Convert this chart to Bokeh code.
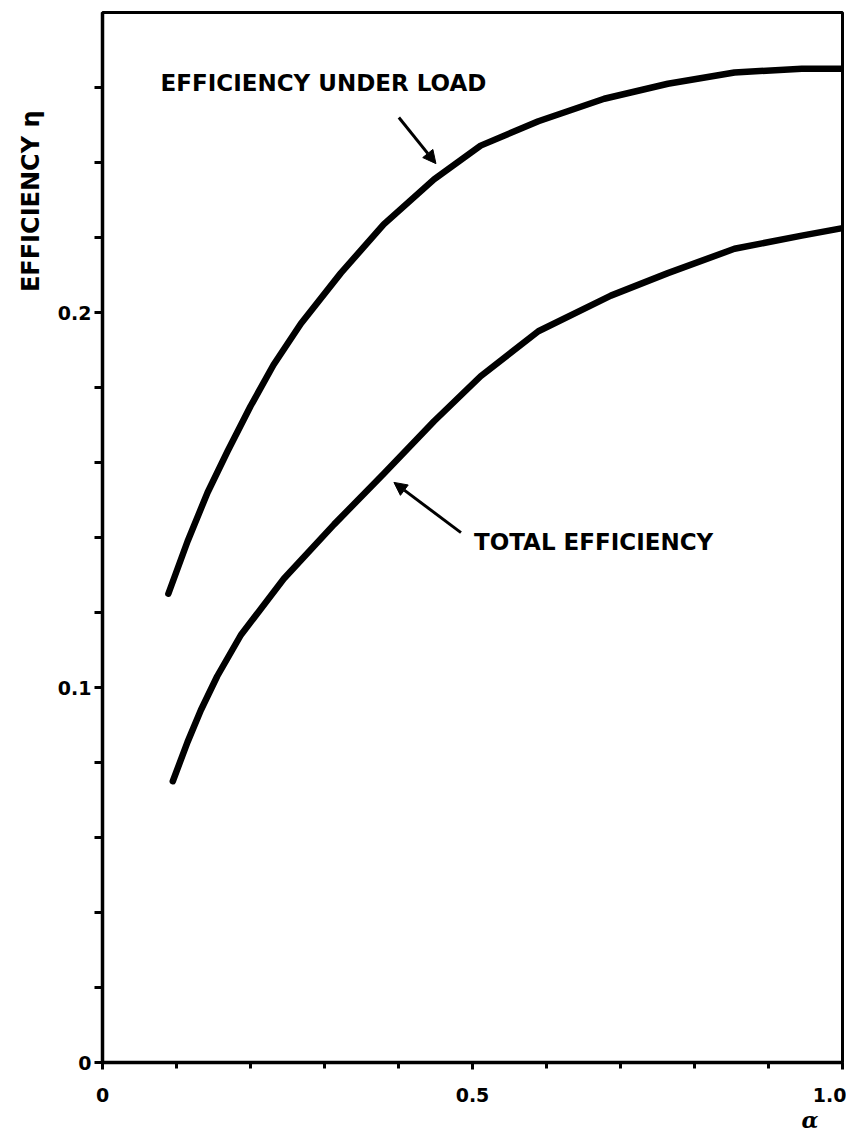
import math
from bokeh.plotting import figure
from bokeh.models import FixedTicker, Label, Arrow, NormalHead, Range1d, Title
from bokeh.embed import file_html
from bokeh.resources import INLINE

# ---- data ----
alpha_load = [0.089, 0.115, 0.142, 0.169, 0.200, 0.231, 0.268, 0.322, 0.380, 0.448,
              0.511, 0.589, 0.678, 0.764, 0.854, 0.945, 0.999]
eta_load = [0.125, 0.139, 0.152, 0.163, 0.175, 0.186, 0.197, 0.2105, 0.2235, 0.2355,
            0.2445, 0.251, 0.257, 0.261, 0.264, 0.265, 0.265]

alpha_total = [0.095, 0.115, 0.133, 0.155, 0.187, 0.245, 0.313, 0.380, 0.448, 0.511,
               0.589, 0.687, 0.764, 0.854, 0.945, 1.000]
eta_total = [0.075, 0.0855, 0.094, 0.103, 0.114, 0.129, 0.1435, 0.157, 0.171, 0.183,
             0.195, 0.2045, 0.2105, 0.217, 0.2205, 0.2225]

x_ticks = [0, 0.5, 1.0]
x_tick_labels = ["0", "0.5", "1.0"]
x_minor = [0.1, 0.2, 0.3, 0.4, 0.6, 0.7, 0.8, 0.9]
y_ticks = [0, 0.1, 0.2]
y_tick_labels = ["0", "0.1", "0.2"]
y_minor = [0.02, 0.04, 0.06, 0.08, 0.12, 0.14, 0.16, 0.18, 0.22, 0.24, 0.26]

FONT = "DejaVu Sans"

p = figure(width=846, height=1135, output_backend="svg", toolbar_location=None,
           x_range=Range1d(0, 1.0), y_range=Range1d(0, 0.28),
           min_border_left=102, min_border_right=4, min_border_top=12, min_border_bottom=73)

p.xgrid.visible = False
p.ygrid.visible = False
p.outline_line_color = "black"
p.outline_line_width = 3
p.background_fill_color = "white"
p.border_fill_color = "white"

for ax, ticks, labels, minor in ((p.xaxis[0], x_ticks, x_tick_labels, x_minor),
                                 (p.yaxis[0], y_ticks, y_tick_labels, y_minor)):
    ax.ticker = FixedTicker(ticks=ticks, minor_ticks=minor)
    ax.major_label_overrides = {t: l for t, l in zip(ticks, labels)}
    ax.axis_line_width = 3.5
    ax.axis_line_color = "black"
    ax.major_tick_line_width = 3
    ax.minor_tick_line_width = 3
    ax.major_tick_in = 0
    ax.minor_tick_in = 0
    ax.major_label_text_font = FONT
    ax.major_label_text_font_style = "bold"
    ax.major_label_text_font_size = "19px"
    ax.major_label_text_color = "black"

p.xaxis[0].major_tick_out = 7
p.xaxis[0].minor_tick_out = 6
p.xaxis[0].major_label_standoff = 18
p.yaxis[0].major_tick_out = 8
p.yaxis[0].minor_tick_out = 8
p.yaxis[0].major_label_standoff = 3

p.line(alpha_load, eta_load, line_width=6.5, line_color="black", line_cap="round", line_join="round")
p.line(alpha_total, eta_total, line_width=6.5, line_color="black", line_cap="round", line_join="round")

# annotations
p.add_layout(Label(x=0.0785, y=0.2613, text="EFFICIENCY UNDER LOAD", text_font=FONT,
                   text_font_style="bold", text_font_size="23px", text_baseline="middle",
                   text_align="left", text_color="black"))
p.add_layout(Label(x=0.502, y=0.1387, text="TOTAL EFFICIENCY", text_font=FONT,
                   text_font_style="bold", text_font_size="23px", text_baseline="middle",
                   text_align="left", text_color="black"))

p.add_layout(Arrow(end=NormalHead(size=13, fill_color="black", line_color="black"),
                   x_start=0.4005, y_start=0.2520, x_end=0.4506, y_end=0.2397,
                   line_width=3, line_color="black"))
p.add_layout(Arrow(end=NormalHead(size=13, fill_color="black", line_color="black"),
                   x_start=0.4844, y_start=0.1413, x_end=0.3938, y_end=0.1547,
                   line_width=3, line_color="black"))

# y-axis title as a left-side title (reads bottom to top, near the top of the axis)
p.add_layout(Title(text="EFFICIENCY η", align="right", offset=98, standoff=19,
                   text_font=FONT, text_font_style="bold", text_font_size="24px",
                   text_color="black"), "left")

# x-axis symbol, below the tick labels near the right end
p.add_layout(Title(text="α", align="right", offset=24, standoff=0,
                   text_font="DejaVu Serif", text_font_style="bold italic",
                   text_font_size="22px", text_color="black"), "below")

open("out.html", "w").write(file_html(p, INLINE))
